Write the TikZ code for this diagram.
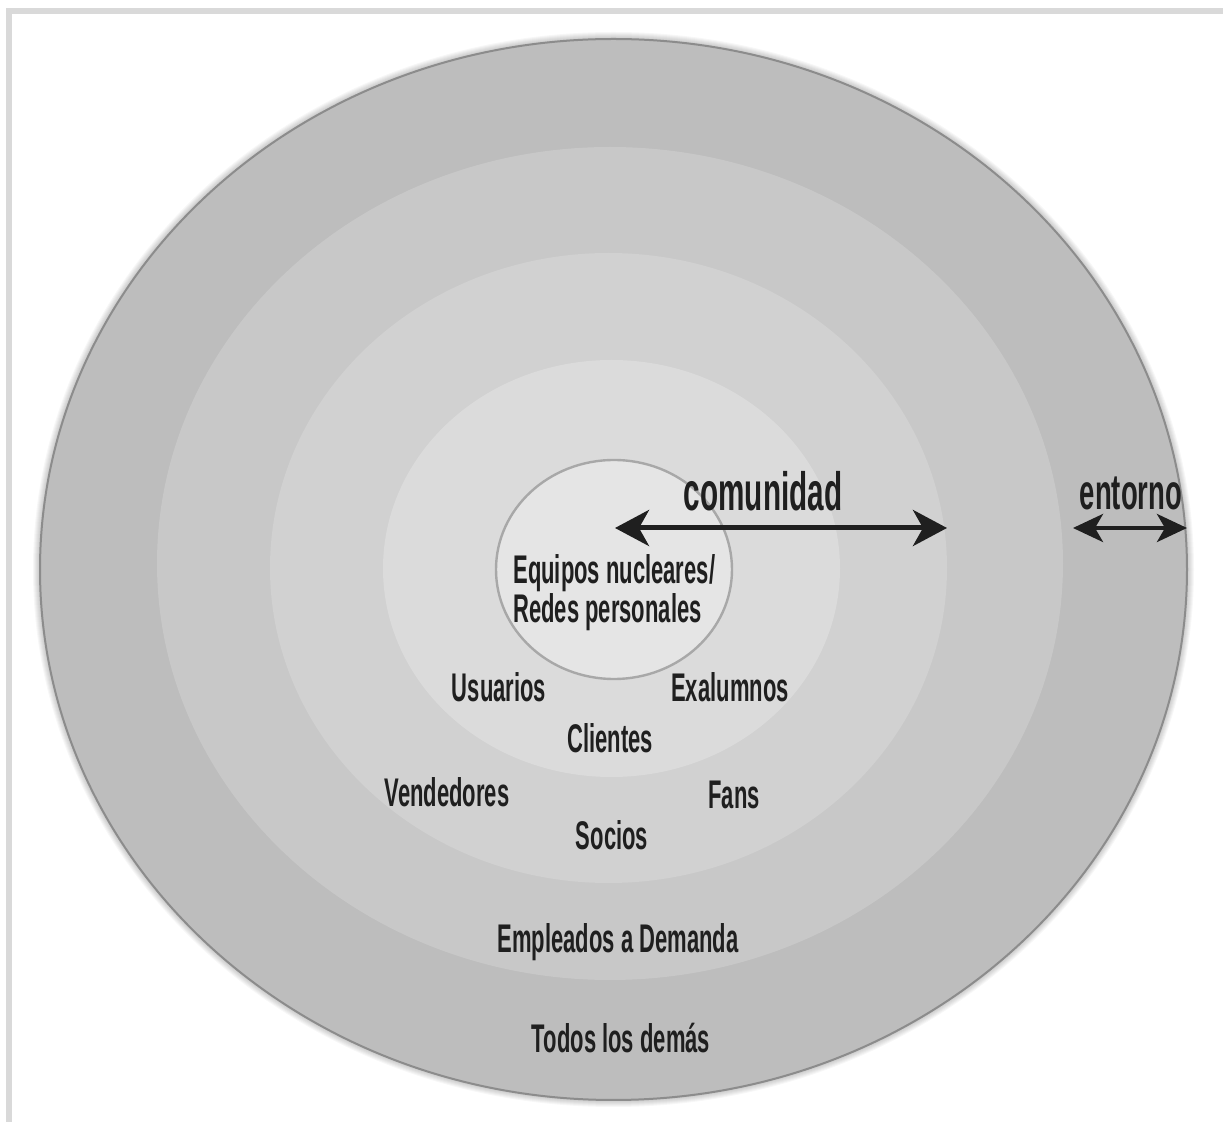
\documentclass[tikz,border=0pt]{standalone}
\usepackage{fontspec}
\setmainfont{Liberation Sans}[FakeStretch=0.55]
\usetikzlibrary{arrows.meta}

\definecolor{ink}{gray}{0.12}
\definecolor{framegray}{gray}{0.85}

\tikzset{
  lbl/.style={font=\bfseries\fontsize{20}{16}\selectfont, text=ink, inner sep=0pt, anchor=base},
  biglbl/.style={lbl, font=\bfseries\fontsize{27}{30}\selectfont},
  twoway/.style={<->, draw=ink, line width=2.5pt},
}

\begin{document}
\begin{tikzpicture}[x=0.5pt,y=-0.5pt]
  \useasboundingbox (0,0) rectangle (1223,1122);
  \clip (0,0) rectangle (1223,1122);
  \fill[white] (0,0) rectangle (1223,1122);
  \draw[line width=3pt,framegray] (9,11) rectangle (1226,1130);

  % soft halo round the outer ring
  \foreach \d in {1,...,7}
    \fill[black,opacity=0.03] (613.5,569.5) ellipse [x radius=573.5+\d, y radius=530.5+\d];

  % rings, outside in
  \foreach \cx/\cy/\rx/\ry/\g in {613.5/569.5/573.5/530.5/26, 610/563.5/453/416.5/21.5,
      608.5/568/338.5/315/18, 611.5/568.5/228.5/208.5/14}
    \fill[black!\g] (\cx,\cy) ellipse [x radius=\rx, y radius=\ry];
  \draw[black!45,line width=1pt] (613.5,569.5) ellipse [x radius=573.5, y radius=530.5];
  \fill[black!10] (614,569.5) ellipse [x radius=118, y radius=109.5];
  \draw[black!34,line width=1.2pt] (614,569.5) ellipse [x radius=118, y radius=109.5];

  % labels
  \node[lbl,anchor=north west,align=left] (core) at (513,554) {Equipos nucleares/\\Redes personales};
  \node[lbl] (usuarios)   at (499,702)  {Usuarios};
  \node[lbl] (exalumnos)  at (730,702)  {Exalumnos};
  \node[lbl] (clientes)   at (610,753)  {Clientes};
  \node[lbl] (vendedores) at (447,807)  {Vendedores};
  \node[lbl] (fans)       at (734,809)  {Fans};
  \node[lbl] (socios)     at (612,850)  {Socios};
  \node[lbl] (empleados)  at (618,953)  {Empleados a Demanda};
  \node[lbl] (demas)      at (621,1053) {Todos los demás};

  \node[biglbl] (comunidad) at (763,511) {comunidad};
  \node[biglbl,font=\bfseries\fontsize{25}{28}\selectfont] (entorno) at (1131,510) {entorno};

  % arrows
  \coordinate (comL) at (615,528);
  \coordinate (comR) at (947,528);
  \coordinate (entL) at (1073,528);
  \coordinate (entR) at (1187,528);
  \draw[twoway,>={Stealth[length=17pt,width=18pt,inset=5pt]}] (comL) -- (comR);
  \draw[twoway,line width=2pt,>={Stealth[length=15pt,width=14pt,inset=4pt]}] (entL) -- (entR);
\end{tikzpicture}
\end{document}
